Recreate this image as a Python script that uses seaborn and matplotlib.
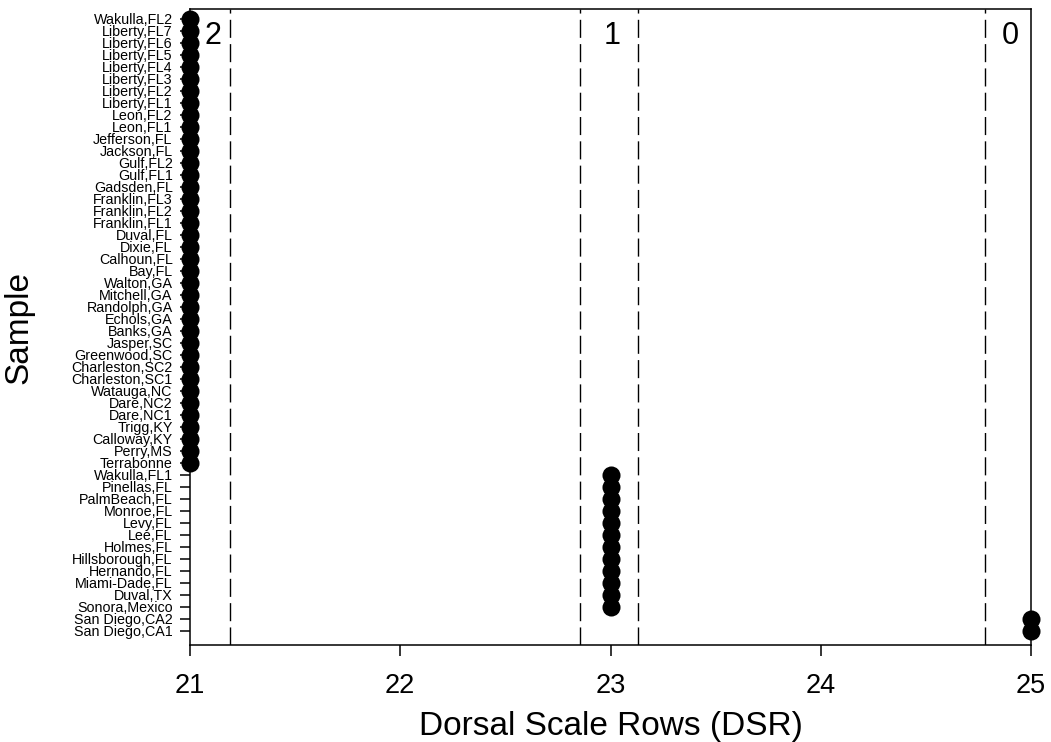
import matplotlib
matplotlib.use("Agg")
import matplotlib.pyplot as plt
import seaborn as sns
import pandas as pd

samples = [
    "Wakulla,FL2", "Liberty,FL7", "Liberty,FL6", "Liberty,FL5", "Liberty,FL4",
    "Liberty,FL3", "Liberty,FL2", "Liberty,FL1", "Leon,FL2", "Leon,FL1",
    "Jefferson,FL", "Jackson,FL", "Gulf,FL2", "Gulf,FL1", "Gadsden,FL",
    "Franklin,FL3", "Franklin,FL2", "Franklin,FL1", "Duval,FL", "Dixie,FL",
    "Calhoun,FL", "Bay,FL", "Walton,GA", "Mitchell,GA", "Randolph,GA",
    "Echols,GA", "Banks,GA", "Jasper,SC", "Greenwood,SC", "Charleston,SC2",
    "Charleston,SC1", "Watauga,NC", "Dare,NC2", "Dare,NC1", "Trigg,KY",
    "Calloway,KY", "Perry,MS", "Terrabonne",
    "Wakulla,FL1", "Pinellas,FL", "PalmBeach,FL", "Monroe,FL", "Levy,FL",
    "Lee,FL", "Holmes,FL", "Hillsborough,FL", "Hernando,FL", "Miami-Dade,FL",
    "Duval,TX", "Sonora,Mexico",
    "San Diego,CA2", "San Diego,CA1",
]
dsr = [21] * 38 + [23] * 12 + [25] * 2

x_ticks = [21, 22, 23, 24, 25]
boundaries = [21.19, 22.855, 23.13, 24.78]
group_labels = ["2", "1", "0"]
group_label_x = [21.11, 23.01, 24.9]

sns.set_theme(style="ticks")
plt.rcParams["font.family"] = ["Liberation Sans", "DejaVu Sans"]

df = pd.DataFrame({"Sample": samples, "DSR": dsr})

fig = plt.figure(figsize=(10.51, 7.42), dpi=100)
ax = fig.add_axes([190 / 1051, 1 - 645 / 742, (1031 - 190) / 1051, (645 - 9) / 742])

sns.stripplot(data=df, x="DSR", y="Sample", order=samples, orient="h",
              jitter=False, color="black", size=13, linewidth=0, ax=ax, zorder=5)
for c in ax.collections:
    c.set_clip_on(False)

for b in boundaries:
    ax.axvline(b, color="black", linewidth=1.0, linestyle=(0, (13, 4.5)), zorder=1)

for lab, xx in zip(group_labels, group_label_x):
    ax.text(xx, 1.4, lab, fontsize=22, ha="center", va="center", color="black")

ax.set_xlim(21, 25)
ax.set_ylim(52.17, -0.83)
ax.set_xticks(x_ticks)
ax.set_xticklabels([str(t) for t in x_ticks], fontsize=19.5)
ax.tick_params(axis="x", direction="out", length=8, width=1.1, pad=12, colors="black")
ax.tick_params(axis="y", direction="out", length=7.5, width=1.1, pad=5, labelsize=10.3,
               colors="black")
ax.set_xlabel("Dorsal Scale Rows (DSR)", fontsize=24, color="black")
ax.set_ylabel("Sample", fontsize=24, color="black")
ax.xaxis.set_label_coords(0.5, -(711 - 645) / 636)
ax.yaxis.set_label_coords((34 - 190) / 841, 0.5)

for s in ax.spines.values():
    s.set_visible(True)
    s.set_linewidth(1.1)
    s.set_color("black")
ax.grid(False)

fig.savefig("out.png", dpi=100)
